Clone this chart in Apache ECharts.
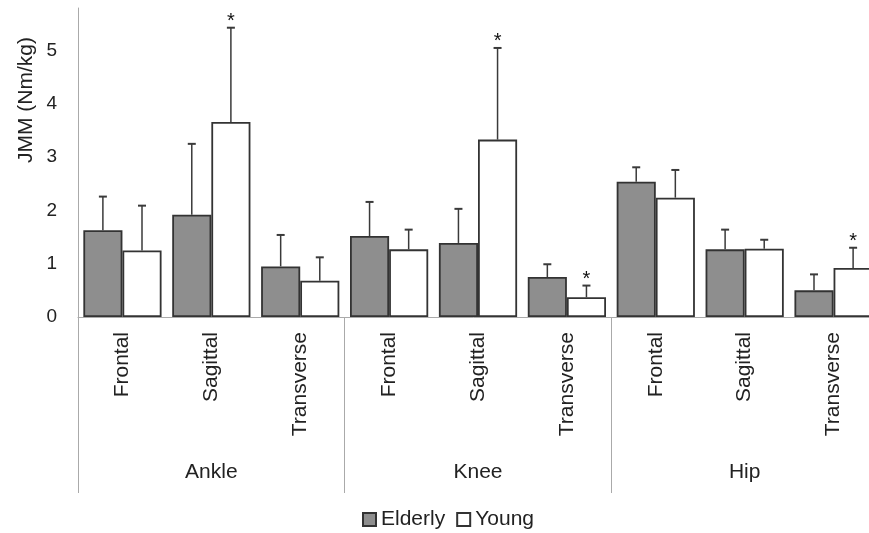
<!DOCTYPE html>
<html>
<head>
<meta charset="utf-8">
<script src="https://cdn.jsdelivr.net/npm/echarts@6/dist/echarts.min.js"></script>
<style>html,body{margin:0;padding:0;background:#fff;}#c{width:869px;height:533px;}</style>
</head>
<body>
<div id="c"></div>
<script>
const categories = ['Frontal','Sagittal','Transverse','Frontal','Sagittal','Transverse','Frontal','Sagittal','Transverse'];
const joints = ['Ankle','Knee','Hip'];
const elderly   = [1.63, 1.92, 0.95, 1.52, 1.39, 0.75, 2.54, 1.27, 0.50];
const elderlySD = [0.63, 1.33, 0.59, 0.64, 0.64, 0.24, 0.27, 0.37, 0.30];
const young     = [1.25, 3.66, 0.68, 1.27, 3.33, 0.37, 2.24, 1.28, 0.92];
const youngSD   = [0.84, 1.77, 0.44, 0.37, 1.72, 0.22, 0.52, 0.17, 0.38];
const youngSignificant = [0, 1, 0, 0, 1, 1, 0, 0, 1];
const yMin = 0, yMax = 5.8, yInterval = 1;

const GAP = 0.12;
const textColor = '#222';
const fontFamily = 'Liberation Sans, Arial, sans-serif';

function errorSeries(name, means, sds, sig, side) {
  return {
    type: 'custom',
    name: name + ' error',
    xAxisIndex: 0, yAxisIndex: 0,
    z: 5,
    silent: true,
    clip: false,
    data: means.map((m, i) => [i, m, sds[i], sig ? sig[i] : 0]),
    renderItem: function (params, api) {
      const i = api.value(0), m = api.value(1), sd = api.value(2), s = api.value(3);
      const band = api.size([1, 0])[0];
      const bw = band * (1 - GAP) / 2;
      const cx = api.coord([i, 0])[0] + side * bw / 2;
      const base = api.coord([i, m])[1];
      const top = api.coord([i, m + sd])[1];
      const children = [
        { type: 'line', shape: { x1: cx, y1: base, x2: cx, y2: top }, style: { stroke: '#3a3a3a', lineWidth: 1.5 } },
        { type: 'line', shape: { x1: cx - 4, y1: top, x2: cx + 4, y2: top }, style: { stroke: '#3a3a3a', lineWidth: 2 } }
      ];
      if (s) {
        children.push({ type: 'text', x: cx, y: top - 16, style: { text: '*', fontSize: 20, fontFamily: fontFamily, fill: '#111', align: 'center', verticalAlign: 'top' } });
      }
      return { type: 'group', children: children };
    }
  };
}

const chart = echarts.init(document.getElementById('c'), null, { renderer: 'canvas' });
chart.setOption({
  backgroundColor: '#fff',
  animation: false,
  grid: { left: 78, width: 800, top: 8, bottom: 216, containLabel: false, outerBoundsMode: 'none' },
  legend: {
    left: 357, top: 504,
    itemWidth: 13, itemHeight: 13, itemGap: 11,
    icon: 'rect',
    textStyle: { fontSize: 21, color: textColor, fontFamily: fontFamily },
    data: ['Elderly', 'Young']
  },
  graphic: [{
    type: 'text', x: 26, y: 100, rotation: Math.PI / 2,
    style: { text: 'JMM (Nm/kg)', fontSize: 21, fontFamily: fontFamily, fill: textColor, align: 'center', verticalAlign: 'middle' }
  }],
  xAxis: [{
    type: 'category', data: categories, position: 'bottom',
    axisLine: { show: true, lineStyle: { color: '#aaa', width: 1 } },
    axisTick: { show: false },
    axisLabel: { rotate: 90, interval: 0, margin: 15, fontSize: 21, color: textColor, fontFamily: fontFamily }
  }, {
    type: 'category', data: joints, position: 'bottom', offset: 0,
    axisLine: { show: false },
    axisTick: { show: true, length: 176, interval: 0, lineStyle: { color: '#aaa', width: 1 } },
    axisLabel: { margin: 145, interval: 0, fontSize: 21, color: textColor, fontFamily: fontFamily }
  }],
  yAxis: {
    type: 'value', min: yMin, max: yMax, interval: yInterval,
    axisLine: { show: true, lineStyle: { color: '#aaa', width: 1 } },
    axisTick: { show: false },
    splitLine: { show: false },
    axisLabel: { margin: 21, fontSize: 19, color: textColor, fontFamily: fontFamily,
      formatter: v => (Math.abs(v - Math.round(v)) < 1e-9 ? String(Math.round(v)) : '') }
  },
  series: [{
    type: 'bar', name: 'Elderly', data: elderly,
    barGap: '0%', barCategoryGap: (GAP * 100) + '%',
    itemStyle: { color: '#8e8e8e', borderColor: '#333', borderWidth: 1.8 }
  }, {
    type: 'bar', name: 'Young', data: young,
    itemStyle: { color: '#fff', borderColor: '#333', borderWidth: 1.8 }
  },
  errorSeries('Elderly', elderly, elderlySD, null, -1),
  errorSeries('Young', young, youngSD, youngSignificant, 1)
  ]
});
</script>
</body>
</html>
